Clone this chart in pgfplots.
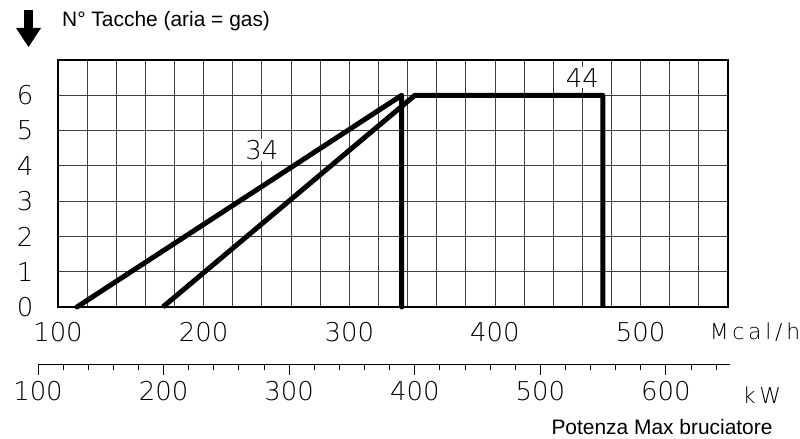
\documentclass[border=0pt]{standalone}
\usepackage{fontspec}
\setmainfont{Liberation Sans}
\newfontfamily\thinfont{DejaVu Sans ExtraLight}
\newfontfamily\thinspaced{DejaVu Sans ExtraLight}[LetterSpace=17]
\usepackage{pgfplots}
\pgfplotsset{compat=1.18}

\newcommand\lbl{\thinfont\fontsize{26}{26}\selectfont}

\begin{document}
\begin{tikzpicture}[x=1bp,y=1bp]
\useasboundingbox (0,0) rectangle (800,439);

% arrow and heading
\fill (24,429) rectangle (33,410);
\fill (16,411) -- (41,411) -- (28.5,392) -- cycle;
\node[anchor=base west, inner sep=0, font=\fontsize{21}{21}\selectfont] at (62,412) {N° Tacche (aria = gas)};

% main chart, Mcal/h
\begin{axis}[
  at={(58bp,132bp)}, anchor=south west,
  scale only axis, width=670bp, height=247bp,
  xmin=100, xmax=560, ymin=0, ymax=7,
  enlargelimits=false, clip=false,
  xtick={100,200,...,500},
  xticklabels={100,200,300,400,500},
  minor xtick={120,140,...,540},
  ytick={0,...,6},
  yticklabels={0,1,2,3,4,5,6},
  grid=both,
  grid style={line width=0.9bp, black!75},
  minor grid style={line width=0.9bp, black!75},
  major tick length=0pt, minor tick length=0pt,
  axis line style={line width=1.2bp},
  tick label style={font=\lbl},
  xticklabel style={anchor=center, yshift=-25bp},
  yticklabel style={anchor=center, xshift=-33bp},
]
\addplot[line width=5bp, line join=round, line cap=round] coordinates {
  (113,0) (336,6) (336,0)
};
\addplot[line width=5bp, line join=round] coordinates {
  (172,0) (345,6) (474,6) (474,0)
};
\node[font=\lbl, fill=white, inner sep=1bp] at (axis cs:240,4.45) {34};
\node[font=\lbl, fill=white, inner sep=1bp] at (axis cs:460,6.50) {44};
\end{axis}

% second scale, kW
\begin{axis}[
  at={(38bp,74bp)}, anchor=south west,
  scale only axis, width=692bp, height=10bp,
  xmin=100, xmax=651, ymin=0, ymax=1,
  enlargelimits=false,
  axis x line=bottom, axis y line=none,
  axis line style={-, line width=1bp},
  xtick={100,200,...,600},
  xticklabels={100,200,300,400,500,600},
  minor xtick={120,140,...,640},
  tick align=outside,
  major tick length=10bp, minor tick length=5bp,
  every tick/.style={black, line width=1bp},
  tick label style={font=\lbl},
  xticklabel style={anchor=center, yshift=-16bp},
]
\end{axis}

\node[font=\thinspaced\fontsize{22}{22}\selectfont] at (755,107) {Mcal/h};
\node[font=\thinspaced\fontsize{22}{22}\selectfont] at (762,44) {kW};
\node[anchor=base, inner sep=0, font=\fontsize{21}{21}\selectfont] at (662,4) {Potenza Max bruciatore};
\end{tikzpicture}
\end{document}
